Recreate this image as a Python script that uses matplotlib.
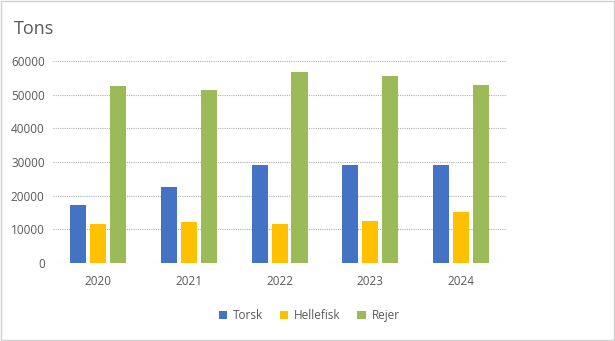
import matplotlib.pyplot as plt
import numpy as np
from matplotlib.patches import Rectangle

years = ['2020', '2021', '2022', '2023', '2024']
torsk = [17300, 22500, 29100, 29100, 29100]
hellefisk = [11600, 12000, 11600, 12500, 15100]
rejer = [52600, 51500, 56700, 55500, 52900]

plt.rcParams['font.family'] = ['Open Sans', 'DejaVu Sans']
txt = '#595959'

fig = plt.figure(figsize=(6.15, 3.41), dpi=100)
ax = fig.add_axes([0.0862, 0.2296, 0.7368, 0.5904])

x = np.arange(len(years))
w = 0.177
step = 0.22
ax.bar(x - step, torsk, w, color='#4472C4', label='Torsk', zorder=3)
ax.bar(x, hellefisk, w, color='#FFC000', label='Hellefisk', zorder=3)
ax.bar(x + step, rejer, w, color='#9BBB59', label='Rejer', zorder=3)

ax.set_xlim(-0.5, len(years) - 0.5)
ax.set_ylim(0, 60000)
ax.set_yticks(range(0, 60001, 10000))
ax.set_xticks(x)
ax.set_xticklabels(years)
ax.yaxis.grid(True, color='#B0B0B0', linestyle=(0, (1, 1)), linewidth=0.8, zorder=0)
for s in ax.spines.values():
    s.set_visible(False)
ax.tick_params(length=0, labelsize=8.5, colors=txt, pad=6)
ax.tick_params(axis='x', pad=9)

fig.text(0.022, 0.915, 'Tons', fontsize=13, color=txt, va='center')

fig.legend(loc='center', bbox_to_anchor=(0.503, 0.075), ncol=3, frameon=False,
           fontsize=8.5, labelcolor=txt, handlelength=0.7, handleheight=0.7,
           handletextpad=0.5, columnspacing=1.4)

fig.patches.append(Rectangle((0.001, 0.002), 0.997, 0.995, transform=fig.transFigure,
                             fill=False, edgecolor='#D0D0D0', linewidth=1))

fig.savefig('out.png', dpi=100)
